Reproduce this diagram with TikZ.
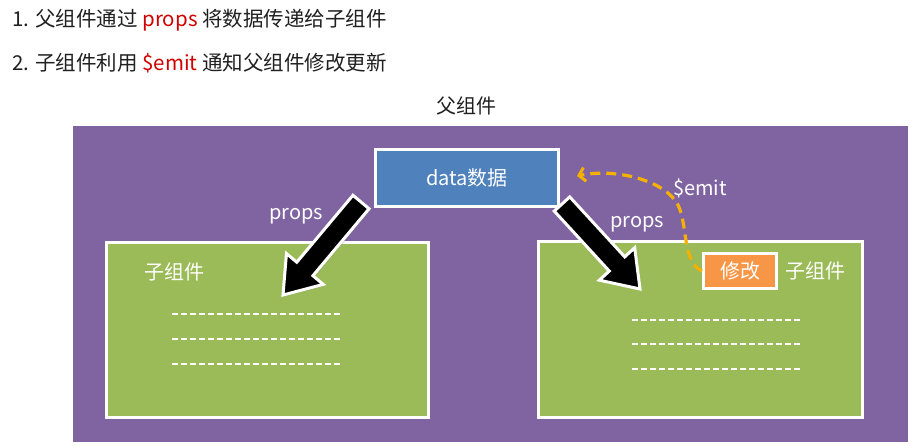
\documentclass[tikz,border=0pt]{standalone}
\usepackage{fontspec}
\setmainfont{Noto Sans CJK SC}
\usetikzlibrary{calc,arrows.meta,shadows}
\definecolor{parentpurple}{HTML}{8064A2}
\definecolor{childgreen}{HTML}{9BBB59}
\definecolor{datablue}{HTML}{4F81BD}
\definecolor{editorange}{HTML}{F79646}
\definecolor{emitgold}{HTML}{F5B000}
\definecolor{titlered}{HTML}{D00000}
\definecolor{titleblack}{HTML}{202020}
\tikzset{
  boxstyle/.style={draw=white, line width=3pt, drop shadow={shadow xshift=1.5pt, shadow yshift=-1.5pt, opacity=0.35}},
  childbox/.style={boxstyle, fill=childgreen},
  whitetext/.style={text=white, font=\fontsize{20}{22}\selectfont, inner sep=0pt},
  titletext/.style={text=titleblack, font=\fontsize{20.5}{23}\selectfont, inner sep=0pt, anchor=west},
  fakeline/.style={draw=white, line width=1.3pt, dash pattern=on 6pt off 3pt},
  blockarrow/.style={fill=black, draw=white, line width=3pt, line join=miter, drop shadow={shadow xshift=1.5pt, shadow yshift=-1.5pt, opacity=0.35}},
  emitline/.style={draw=emitgold, line width=3.2pt, dash pattern=on 10pt off 6pt, -{Straight Barb[length=6pt,width=14pt,line width=3pt]}}
}
\newcommand{\myblockarrow}[2]{%
  \path[blockarrow]
    ($(#1)!10.5pt!90:(#2)$) --
    ($($(#2)!34pt!(#1)$)!10.5pt!-90:(#1)$) --
    ($($(#2)!34pt!(#1)$)!24pt!-90:(#1)$) --
    (#2) --
    ($($(#2)!34pt!(#1)$)!24pt!90:(#1)$) --
    ($($(#2)!34pt!(#1)$)!10.5pt!90:(#1)$) --
    ($(#1)!10.5pt!-90:(#2)$) -- cycle;%
}
\begin{document}
\begin{tikzpicture}[x=1pt,y=-1pt]
\useasboundingbox (0,0) rectangle (912,445);
\fill[white] (0,0) rectangle (912,445);

% titles
\node[titletext] (t1) at (12,20) {1. 父组件通过 {\color{titlered}props} 将数据传递给子组件};
\node[titletext] (t2) at (12,63) {2. 子组件利用 {\color{titlered}\$emit} 通知父组件修改更新};
\node[text=titleblack, font=\fontsize{20}{22}\selectfont, inner sep=0pt] (ptitle) at (466,106) {父组件};

% parent area
\fill[parentpurple] (73,126) rectangle (908,442);

% child boxes
\path[childbox] (106,242) rectangle (428,417);
\path[childbox] (538,241) rectangle (862,417);

\node[whitetext, anchor=west] (lchild) at (144,272) {子组件};
\node[whitetext, anchor=west] (rchild) at (785,271) {子组件};

% fake text lines
\foreach \yy in {314,339,364} \draw[fakeline] (172,\yy) -- (341,\yy);
\foreach \yy in {320,344,369} \draw[fakeline] (632,\yy) -- (801,\yy);

% data box
\node[boxstyle, fill=datablue, minimum width=183pt, minimum height=57pt, inner sep=0pt] (data) at (467,178) {};
\node[whitetext] (datatext) at (467,178) {data数据};

% edit box
\node[boxstyle, fill=editorange, minimum width=73pt, minimum height=35pt, inner sep=0pt] (edit) at (740,271) {};
\node[whitetext] (edittext) at (740,271) {修改};

% block arrows
\coordinate (lstart) at (361,202);
\coordinate (ltip) at (283,295);
\coordinate (rstart) at (562,204);
\coordinate (rtip) at (640,289);
\myblockarrow{lstart}{ltip}
\myblockarrow{rstart}{rtip}

\node[whitetext] (lprops) at (296,216) {props};
\node[whitetext] (rprops) at (637,224) {props};

% emit
\coordinate (emitend) at (577,176);
\draw[emitline] (edit.west) .. controls (682,262) and (688,225) .. (678,205)
   .. controls (665,180) and (615,168) .. (emitend);
\node[whitetext] (emitlabel) at (700,188) {\$emit};
\end{tikzpicture}
\end{document}
